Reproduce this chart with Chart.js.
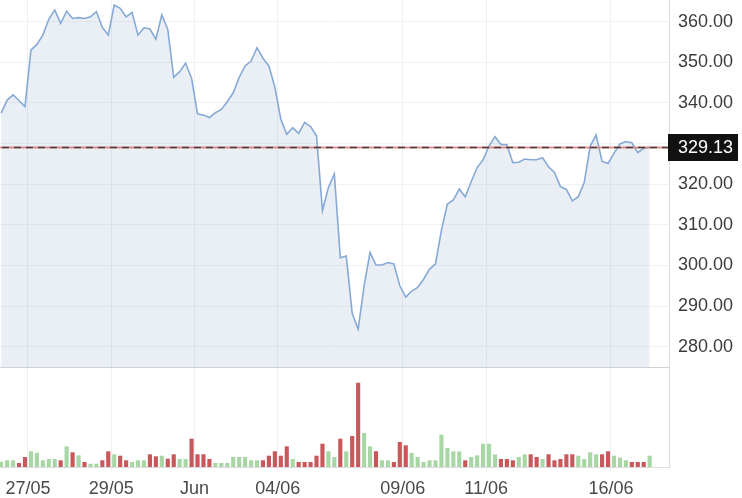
<!DOCTYPE html>
<html>
<head>
<meta charset="utf-8">
<script src="https://cdn.jsdelivr.net/npm/chart.js@4"></script>
<style>
html,body{margin:0;padding:0;background:#fff;}
#wrap{width:742px;height:498px;position:relative;}
</style>
</head>
<body>
<div id="wrap"><canvas id="c"></canvas></div>
<script>
// ---- data ----
const prices = [
  337.5,340.7,342.0,340.6,339.1,353.0,354.4,356.7,360.6,362.9,
  359.6,362.6,360.8,361.0,360.8,361.2,362.5,358.6,356.7,364.1,
  363.3,361.2,362.3,356.7,358.5,358.2,355.7,361.7,358.1,346.3,
  347.7,349.8,346.1,337.3,337.0,336.4,337.6,338.4,340.3,342.5,
  346.3,349.1,350.3,353.6,351.0,349.1,343.9,336.0,332.3,333.9,
  332.5,335.2,334.2,331.9,313.5,319.2,322.5,301.9,302.3,288.2,
  284.3,295.0,303.2,300.1,300.1,300.7,300.4,295.0,292.2,293.7,
  294.6,296.6,299.1,300.4,308.7,315.1,316.1,318.8,316.9,320.6,
  324.1,326.0,329.4,331.7,329.8,329.7,325.3,325.4,326.2,326.0,
  326.0,326.5,324.3,322.9,319.4,318.7,315.9,316.9,320.4,329.4,
  332.1,325.6,325.1,327.6,329.9,330.5,330.2,327.8,328.8,329.13
];
const volumes = [
  5.3,6.7,6.7,4.0,10.0,15.7,14.3,6.7,8.0,8.0,
  6.7,20.7,14.7,11.7,5.0,3.3,3.3,6.7,15.7,12.7,
  11.3,6.7,5.0,6.7,6.7,12.7,10.7,11.3,8.3,12.7,
  8.0,8.0,28.3,12.7,12.7,8.0,4.0,4.0,4.0,10.0,
  10.0,10.0,6.7,6.7,6.7,11.3,15.7,11.3,20.7,8.0,
  5.0,5.0,5.0,11.3,23.3,15.7,10.0,28.3,15.7,31.0,
  84.3,34.0,20.7,15.7,6.7,6.7,5.0,25.0,21.7,14.0,
  10.0,5.0,6.7,6.7,32.3,19.0,15.7,15.7,6.7,10.0,
  11.7,23.3,23.3,12.5,8.0,8.0,6.7,10.0,12.7,12.7,
  10.0,8.0,12.7,6.7,8.0,12.7,12.7,11.3,8.0,14.7,
  12.7,12.7,15.7,11.3,9.3,6.7,5.0,5.0,5.0,11.3
];
// u = up bar (green), d = down bar (red)
const directions = [
  'u','u','u','d','d','u','u','u','u','u',
  'd','u','d','u','d','u','u','d','d','u',
  'd','d','u','u','u','d','d','u','d','d',
  'u','u','d','d','d','d','u','u','u','u',
  'u','u','u','u','d','d','d','d','d','u',
  'd','d','d','d','d','u','u','d','u','d',
  'd','u','u','d','u','u','d','d','d','u',
  'u','u','u','u','u','u','u','u','d','u',
  'u','u','u','u','d','d','d','u','u','d',
  'd','u','d','d','d','d','d','u','u','u',
  'u','d','d','u','u','u','d','d','d','u'
];
const tickPositions = [4.5, 18.5, 32.5, 46.5, 67.5, 81.5, 102.5];
const tickLabels = ['27/05', '29/05', 'Jun', '04/06', '09/06', '11/06', '16/06'];
const priceTicks = [280, 290, 300, 310, 320, 330, 340, 350, 360];
const lastPrice = 329.13;

// ---- chart ----
const FONT = '"Liberation Sans", Arial, Helvetica, sans-serif';
Chart.defaults.font.family = FONT;

const lastPricePlugin = {
  id: 'lastPrice',
  afterDraw(chart) {
    const ys = chart.scales.y;
    const ctx = chart.ctx;
    const y = Math.round(ys.getPixelForValue(lastPrice)) + 0.5;
    const left = chart.chartArea.left;
    const right = ys.left;
    ctx.save();
    ctx.beginPath();
    ctx.strokeStyle = 'rgba(215,125,125,0.85)';
    ctx.lineWidth = 2;
    ctx.moveTo(left, y); ctx.lineTo(right, y);
    ctx.stroke();
    ctx.beginPath();
    ctx.setLineDash([7, 5]);
    ctx.strokeStyle = 'rgba(60,50,50,0.9)';
    ctx.lineWidth = 1.3;
    ctx.moveTo(left + 2, y); ctx.lineTo(right, y);
    ctx.stroke();
    ctx.setLineDash([]);
    ctx.fillStyle = '#111';
    ctx.fillRect(ys.left - 1, y - 13.5, 70, 27);
    ctx.fillStyle = '#fff';
    ctx.font = '18px ' + FONT;
    ctx.textBaseline = 'middle';
    ctx.textAlign = 'left';
    ctx.fillText(lastPrice.toFixed(2), ys.left + 9, y + 1);
    ctx.restore();
  }
};

new Chart(document.getElementById('c'), {
  data: {
    datasets: [
      {
        type: 'line',
        data: prices.map((p, i) => ({x: i, y: p})),
        xAxisID: 'x',
        yAxisID: 'y',
        borderColor: '#86a9d6',
        borderWidth: 1.6,
        pointRadius: 0,
        tension: 0,
        fill: 'start',
        backgroundColor: 'rgba(150,175,205,0.2)'
      },
      {
        type: 'bar',
        data: volumes.map((v, i) => ({x: i, y: v})),
        xAxisID: 'x',
        yAxisID: 'v',
        backgroundColor: directions.map(d => d === 'u' ? '#a8d6a5' : '#c9585d'),
        borderWidth: 0,
        categoryPercentage: 1,
        barPercentage: 0.7
      }
    ]
  },
  options: {
    responsive: true,
    maintainAspectRatio: false,
    animation: false,
    layout: {padding: 0},
    plugins: {legend: {display: false}, tooltip: {enabled: false}},
    scales: {
      x: {
        type: 'linear',
        min: -0.2,
        max: 112.25,
        offset: false,
        z: 1,
        afterBuildTicks: s => { s.ticks = tickPositions.map(v => ({value: v})); },
        afterFit: s => { s.height = 31; s.paddingLeft = 0; s.paddingRight = 0; },
        ticks: {
          callback: (v, i) => tickLabels[i],
          autoSkip: false,
          maxRotation: 0,
          color: '#4a4a4a',
          font: {size: 18},
          padding: 7
        },
        grid: {color: '#eceff3', tickLength: 4, drawTicks: true, offset: false},
        border: {color: '#dcdcdc'}
      },
      y: {
        type: 'linear',
        position: 'right',
        stack: 'panels',
        stackWeight: 367,
        min: 275,
        max: 365.34,
        z: 1,
        afterBuildTicks: s => { s.ticks = priceTicks.map(v => ({value: v})); },
        afterFit: s => { s.width = 73; s.paddingTop = 0; s.paddingBottom = 0; },
        ticks: {
          callback: v => Number(v).toFixed(2),
          autoSkip: false,
          color: '#3c3c3c',
          font: {size: 18},
          padding: 9
        },
        grid: {color: '#f1f2f4', drawTicks: false},
        border: {color: '#dcdcdc'}
      },
      v: {
        type: 'linear',
        position: 'right',
        stack: 'panels',
        stackWeight: 100,
        min: 0,
        max: 100,
        afterBuildTicks: s => { s.ticks = [{value: 100}]; },
        afterFit: s => { s.width = 73; s.paddingTop = 0; s.paddingBottom = 0; },
        ticks: {display: false},
        grid: {color: '#d2d2d2', drawTicks: false},
        border: {color: '#dcdcdc'}
      }
    }
  },
  plugins: [lastPricePlugin]
});
</script>
</body>
</html>
